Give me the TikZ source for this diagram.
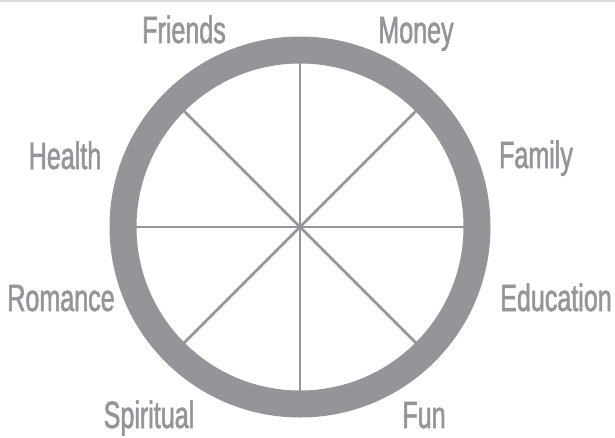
\documentclass[tikz,border=0pt]{standalone}
\usepackage{fontspec}
\newfontfamily\handfont[FakeStretch=0.66,FakeBold=1.4]{Liberation Sans}
\usetikzlibrary{positioning}
\definecolor{Slate}{HTML}{939598}
\definecolor{Rule}{HTML}{DCDCDC}

\begin{document}
\begin{tikzpicture}[x=1pt,y=-1pt,
    lbl/.style={font=\handfont\fontsize{38}{38}\selectfont,text=Slate,anchor=base,inner sep=0pt}]
  \useasboundingbox (0,0) rectangle (615,437);
  \draw[Rule,line width=1.5pt] (0,0.75) -- (615,0.75);
  \coordinate (hub) at (300,227);
  \draw[Slate,line width=27pt] (hub) circle (177);
  \foreach \a in {0,45,...,315}{
    \draw[Slate,line width=2.6pt] (hub) -- ++(\a:166);
  }
  \node[lbl] (friends) at (184,43) {Friends};
  \node[lbl] (money) at (416,43) {Money};
  \node[lbl] (health) at (65,169) {Health};
  \node[lbl] (family) at (536,168) {Family};
  \node[lbl] (romance) at (61,311) {Romance};
  \node[lbl] (education) at (556,311) {Education};
  \node[lbl] (spiritual) at (149,428) {Spiritual};
  \node[lbl] (fun) at (424,428) {Fun};
\end{tikzpicture}
\end{document}
